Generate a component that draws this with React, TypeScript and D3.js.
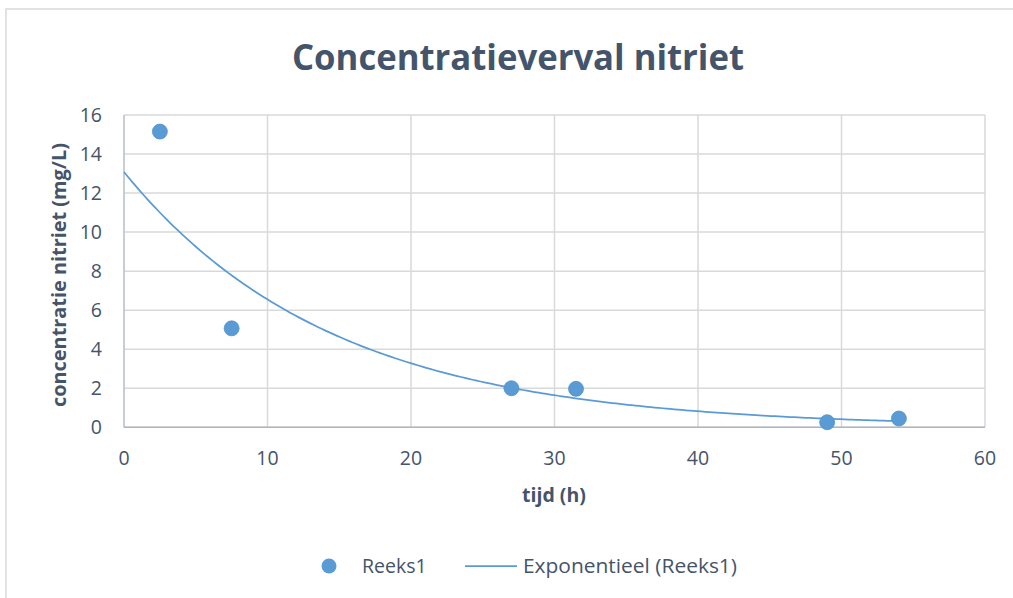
import React from "react";
import * as d3 from "d3";

const timeH = [2.5, 7.5, 27, 31.5, 49, 54];
const concentration = [15.15, 5.07, 2.0, 1.97, 0.26, 0.45];
const xTicks = [0, 10, 20, 30, 40, 50, 60];
const yTicks = [0, 2, 4, 6, 8, 10, 12, 14, 16];
const title = "Concentratieverval nitriet";
const xTitle = "tijd (h)";
const yTitle = "concentratie nitriet (mg/L)";
const seriesName = "Reeks1";
const trendName = "Exponentieel (Reeks1)";

const W = 1013, H = 598;
const left = 124, right = 985, top = 115, bottom = 427.3;
const blue = "#5B9BD5";
const textColor = "#44546A";
const font = "'Open Sans', 'DejaVu Sans', sans-serif";

export default function App() {
  const x = d3.scaleLinear().domain([0, 60]).range([left, right]);
  const y = d3.scaleLinear().domain([0, 16]).range([bottom, top]);

  // exponential least-squares fit (like Excel's exponential trendline)
  const lnY = concentration.map((v) => Math.log(v));
  const mx = d3.mean(timeH)!;
  const my = d3.mean(lnY)!;
  let sxy = 0, sxx = 0;
  timeH.forEach((t, i) => {
    sxy += (t - mx) * (lnY[i] - my);
    sxx += (t - mx) * (t - mx);
  });
  const b = sxy / sxx;
  const a = Math.exp(my - b * mx);
  const xMax = d3.max(timeH)!;
  const trendPts: [number, number][] = d3.range(0, 201).map((i) => {
    const t = (xMax * i) / 200;
    return [t, a * Math.exp(b * t)];
  });
  const line = d3
    .line<[number, number]>()
    .x((d) => x(d[0]))
    .y((d) => y(d[1]));

  return (
    <svg
      width={W}
      height={H}
      style={{ position: "absolute", left: 0, top: 0, background: "#fff" }}
    >
      <rect x={6} y={9} width={1100} height={700} fill="#fff" stroke="#D9D9D9" strokeWidth={1.5} />
      <text
        x={518}
        y={70}
        textAnchor="middle"
        fontFamily={font}
        fontWeight="bold"
        fontSize={35}
        fill={textColor}
        textLength={452}
        lengthAdjust="spacingAndGlyphs"
      >
        {title}
      </text>
      {yTicks.map((t) => (
        <line key={"gy" + t} x1={left} x2={right} y1={y(t)} y2={y(t)} stroke="#D9D9D9" strokeWidth={1.5} />
      ))}
      {xTicks.map((t) => (
        <line key={"gx" + t} x1={x(t)} x2={x(t)} y1={top} y2={bottom} stroke="#D9D9D9" strokeWidth={1.5} />
      ))}
      <line x1={left} x2={left} y1={top} y2={bottom} stroke="#BFC6D0" strokeWidth={1.5} />
      <line x1={left} x2={right} y1={bottom} y2={bottom} stroke="#AEB6C2" strokeWidth={1.5} />
      {yTicks.map((t) => (
        <text key={"ly" + t} x={102} y={y(t) + 7} textAnchor="end" fontFamily={font} fontSize={19.5} fill={textColor}>
          {t}
        </text>
      ))}
      {xTicks.map((t) => (
        <text key={"lx" + t} x={x(t)} y={464.5} textAnchor="middle" fontFamily={font} fontSize={19.5} fill={textColor}>
          {t}
        </text>
      ))}
      <text x={554} y={502} textAnchor="middle" fontFamily={font} fontWeight="bold" fontSize={19.5} fill={textColor}>
        {xTitle}
      </text>
      <text
        transform={`translate(66, 275) rotate(-90)`}
        textAnchor="middle"
        fontFamily={font}
        fontWeight="bold"
        fontSize={19}
        fill={textColor}
        textLength={264}
        lengthAdjust="spacingAndGlyphs"
      >
        {yTitle}
      </text>
      <path d={line(trendPts) || ""} fill="none" stroke={blue} strokeWidth={1.75} />
      {timeH.map((t, i) => (
        <circle key={"p" + i} cx={x(t)} cy={y(concentration[i])} r={7.5} fill={blue} stroke="#4D8FCC" strokeWidth={0.75} />
      ))}
      <circle cx={329} cy={566} r={7.5} fill={blue} />
      <text x={362} y={573} fontFamily={font} fontSize={19.5} fill={textColor}>
        {seriesName}
      </text>
      <line x1={465} x2={517} y1={566} y2={566} stroke={blue} strokeWidth={1.75} />
      <text x={523} y={573} fontFamily={font} fontSize={19.5} fill={textColor} textLength={214} lengthAdjust="spacingAndGlyphs">
        {trendName}
      </text>
    </svg>
  );
}
